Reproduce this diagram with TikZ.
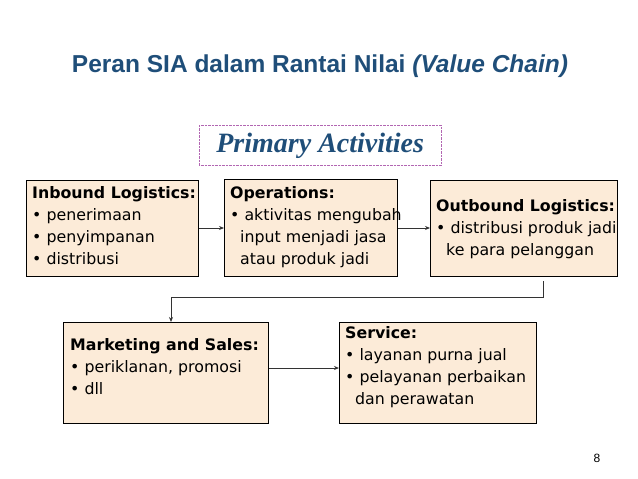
\documentclass[tikz,border=0pt]{standalone}
\usepackage{fontspec}
\setmainfont{DejaVu Sans}
\newfontfamily\titlefont{Liberation Sans}
\newfontfamily\serfont{Liberation Serif}
\usetikzlibrary{arrows.meta}
\definecolor{tblue}{HTML}{1F4E79}
\definecolor{boxfill}{HTML}{FCEBD8}
\begin{document}
\begin{tikzpicture}[x=1pt,y=-1pt,
  box/.style={draw=black,line width=0.9pt,fill=boxfill,anchor=north west,inner sep=0pt},
  txt/.style={anchor=north west,align=left,inner sep=0pt,font=\fontsize{15.8}{22}\selectfont},
  conn/.style={draw=black!80,line width=0.9pt,-{Stealth[length=5pt,width=4pt]}}]
\useasboundingbox (0,0) rectangle (638,479);
\node[anchor=center,text=tblue,font=\titlefont\bfseries\fontsize{24.5}{28}\selectfont] (title) at (320,66) {Peran SIA dalam Rantai Nilai \textit{(Value Chain)}};
\node[draw=violet!60,densely dotted,minimum width=242pt,minimum height=40pt,anchor=north west,inner sep=0pt] (pa) at (199,125) {};
\node[text=tblue,font=\serfont\bfseries\itshape\fontsize{28}{30}\selectfont] (pat) at ([yshift=-1pt]pa.center) {Primary Activities};
\node[box,minimum width=172pt,minimum height=96pt] (inb) at (26,180) {};
\node[box,minimum width=173pt,minimum height=97pt] (ops) at (224,179) {};
\node[box,minimum width=187pt,minimum height=96pt] (outb) at (430,180) {};
\node[box,minimum width=205pt,minimum height=101pt] (mkt) at (63,322) {};
\node[box,minimum width=197pt,minimum height=101pt] (srv) at (339,322) {};
\node[txt] (t1) at (32,186) {\textbf{Inbound Logistics:}\\• penerimaan\\• penyimpanan\\• distribusi};
\node[txt] (t2) at (230,186) {\textbf{Operations:}\\• aktivitas mengubah\\\hspace*{10pt}input menjadi jasa\\\hspace*{10pt}atau produk jadi};
\node[txt] (t3) at (436,199) {\textbf{Outbound Logistics:}\\• distribusi produk jadi\\\hspace*{10pt}ke para pelanggan};
\node[txt] (t4) at (70,338) {\textbf{Marketing and Sales:}\\• periklanan, promosi\\• dll};
\node[txt] (t5) at (345,326) {\textbf{Service:}\\• layanan purna jual\\• pelayanan perbaikan\\\hspace*{10pt}dan perawatan};
\node[anchor=center,font=\titlefont\fontsize{12}{14}\selectfont] (pg) at (597,458) {8};
\coordinate (c1) at (543,281);
\draw[conn] (inb.east |- 0,228) -- (ops.west |- 0,228);
\draw[conn] (ops.east |- 0,228) -- (outb.west |- 0,228);
\draw[conn] (c1) -- (543,297) -- (171,297) -- (mkt.north -| 171,0);
\draw[conn] (mkt.east |- 0,368) -- (srv.west |- 0,368);
\end{tikzpicture}
\end{document}
